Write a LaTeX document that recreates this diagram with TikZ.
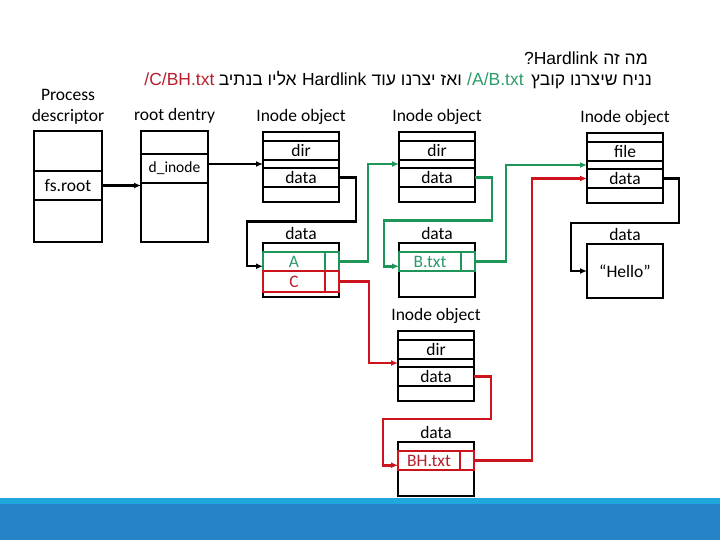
\documentclass[tikz,border=0pt]{standalone}
\usepackage{fontspec}
\setmainfont{Carlito}
\newfontfamily\hebfont[Script=Hebrew]{Liberation Sans}
\newfontfamily\latfont{Liberation Sans}
\TeXXeTstate=1
\usetikzlibrary{arrows.meta,calc}
\definecolor{lnkgreen}{RGB}{30,150,90}
\definecolor{txtgreen}{RGB}{45,155,105}
\definecolor{lnkred}{RGB}{205,20,28}
\definecolor{txtred}{RGB}{185,30,45}
\definecolor{barlight}{RGB}{32,168,222}
\definecolor{bardark}{RGB}{38,131,198}
\tikzset{
  cell/.style={draw, line width=2.6pt, inner sep=0pt, outer sep=0pt, minimum width=76pt, font=\fontsize{17.5}{20}\selectfont},
  lbl/.style={inner sep=0pt, font=\fontsize{17.5}{20}\selectfont},
  rowc/.style={draw, line width=2.5pt, inner sep=0pt, outer sep=0pt, minimum height=19pt, font=\fontsize{17.5}{20}\selectfont},
  conn/.style={line width=2.4pt, -{Latex[length=7pt,width=6pt]}},
  gconn/.style={conn, line width=2.8pt, color=lnkgreen},
  rconn/.style={conn, line width=2.8pt, color=lnkred},
  heb/.style={inner sep=0pt, font=\hebfont\fontsize{17.5}{20}\selectfont},
  lat/.style={inner sep=0pt, font=\latfont\fontsize{17.5}{20}\selectfont}
}
\newcommand\mkinode[4]{%
  \node[lbl] (#1l) at (#2,#3-15) {Inode object};
  \node[cell,minimum height=9pt] (#1t) at (#2,#3+4.5) {};
  \node[cell,minimum height=19pt] (#1r) at (#2,#3+18.5) {#4};
  \node[cell,minimum height=8pt] (#1m) at (#2,#3+32) {};
  \node[cell,minimum height=19pt] (#1d) at (#2,#3+45.5) {data};
  \node[cell,minimum height=15pt] (#1b) at (#2,#3+62.5) {};
}
\newcommand\mkdatabox[4]{%
  \node[lbl] (#1l) at (#2,#3-10) {data};
  \node[cell,minimum height=54pt] (#1) at (#2,#3+27) {#4};
}
\begin{document}
\begin{tikzpicture}[x=1pt,y=-1pt]
\useasboundingbox (0,0) rectangle (720,540);
% bottom bar
\fill[bardark] (0,504) rectangle (720,540);
\fill[barlight] (0,498) rectangle (720,504);

% title, line 1 (right to left)
\node[heb, anchor=base east] (t1a) at (648,65) {\beginR מה זה\endR};
\node[lat, anchor=base east] (t1b) at ([xshift=-5pt]t1a.base west) {?Hardlink};
% title, line 2 (right to left)
\node[heb, anchor=base east] (t2a) at (652,86) {\beginR נניח שיצרנו קובץ\endR};
\node[lat, anchor=base east, text=txtgreen] (t2b) at ([xshift=-7pt]t2a.base west) {/A/B.txt};
\node[heb, anchor=base east] (t2c) at ([xshift=-5pt]t2b.base west) {\beginR ואז יצרנו עוד\endR};
\node[lat, anchor=base east] (t2d) at ([xshift=-5pt]t2c.base west) {Hardlink};
\node[heb, anchor=base east] (t2e) at ([xshift=-5pt]t2d.base west) {\beginR אליו בנתיב\endR};
\node[lat, anchor=base east, text=txtred] (t2f) at ([xshift=-4pt]t2e.base west) {/C/BH.txt};

% process descriptor
\node[lbl, align=center, font=\fontsize{17.5}{21}\selectfont] (pdl) at (68,106.5) {Process\\descriptor};
\node[cell, minimum width=68pt, minimum height=40pt] (pd1) at (68,151) {};
\node[cell, minimum width=68pt, minimum height=29pt] (pd2) at (68,185.5) {fs.root};
\node[cell, minimum width=68pt, minimum height=42pt] (pd3) at (68,221) {};

% root dentry
\node[lbl] (rdl) at (174.5,116) {root dentry};
\node[cell, minimum width=67pt, minimum height=23pt] (rd1) at (174.5,142.5) {};
\node[cell, minimum width=67pt, minimum height=29pt, font=\fontsize{15.5}{17}\selectfont] (rd2) at (174.5,168.5) {d\_inode};
\node[cell, minimum width=67pt, minimum height=59pt] (rd3) at (174.5,212.5) {};

% inode objects
\mkinode{ia}{301}{132}{dir}
\mkinode{ib}{437}{132}{dir}
\mkinode{ic}{625}{133}{file}
\mkinode{id}{436}{331}{dir}

% data boxes
\mkdatabox{da}{301}{243}{}
\mkdatabox{db}{437}{243}{}
\mkdatabox{dc}{625}{244}{“Hello”}
\mkdatabox{dd}{436}{442}{}

% rows inside data boxes
\node[rowc, draw=lnkgreen, text=txtgreen, minimum width=62pt] (daA) at (294,261.5) {A};
\node[rowc, draw=lnkgreen, minimum width=14pt] (daAp) at (332,261.5) {};
\node[rowc, draw=lnkred, text=txtred, minimum width=62pt, minimum height=21pt] (daC) at (294,281.5) {C};
\node[rowc, draw=lnkred, minimum width=14pt, minimum height=21pt] (daCp) at (332,281.5) {};
\node[rowc, draw=lnkgreen, text=txtgreen, minimum width=62pt] (dbB) at (430,261.5) {B.txt};
\node[rowc, draw=lnkgreen, minimum width=14pt] (dbBp) at (468,261.5) {};
\node[rowc, draw=lnkred, text=txtred, minimum width=62pt] (ddB) at (429,460.5) {BH.txt};
\node[rowc, draw=lnkred, minimum width=14pt] (ddBp) at (467,460.5) {};

% black connectors
\draw[conn] (pd2.east) -- (pd2.east -| rd2.west);
\draw[conn] (rd2.east |- iam.west) -- (iam.west);
\draw[conn] (iad.east) -- ++(17,0) |- ++(-109,44) |- ($(daA.west)!0.5!(daA.south west)$);
\draw[conn] (icd.east) -- ++(16,0) |- ++(-108,44.5) |- (dc.west);

% green connectors
\draw[gconn] (daAp.east) -- ++(29,0) |- (ibm.west);
\draw[gconn] (ibd.east) -- ++(17,0) |- ++(-108,43) |- ($(dbB.west)!0.5!(dbB.south west)$);
\draw[gconn] (dbBp.east) -- ++(31,0) |- (icm.west);

% red connectors
\draw[rconn] (daCp.east) -- ++(30,0) |- (idm.west);
\draw[rconn] (idd.east) -- ++(17,0) |- ++(-108,42.5) |- ($(ddB.west)!0.5!(ddB.south west)$);
\draw[rconn] (ddBp.east) -- ++(58,0) |- (icd.west);
\end{tikzpicture}
\end{document}
